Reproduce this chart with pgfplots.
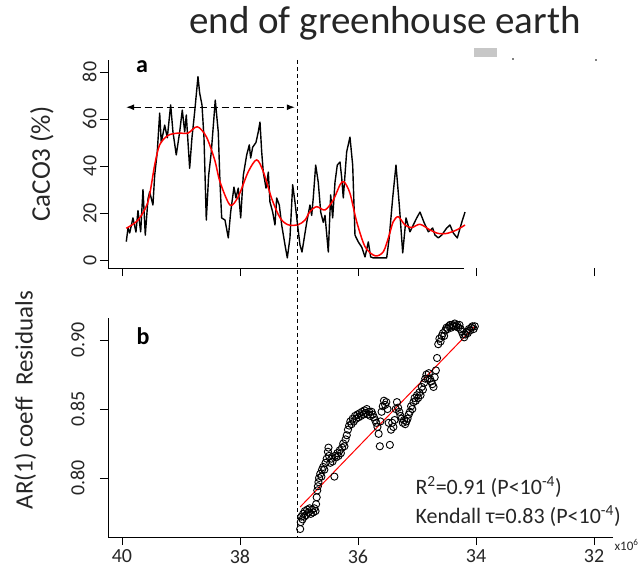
\documentclass[border=0pt]{standalone}
\usepackage{fontspec}
\setmainfont{Carlito}
\usepackage{pgfplots}
\usepackage{pgfplotstable}
\pgfplotsset{compat=1.18}
\usetikzlibrary{arrows.meta}

% CaCO3 record (black) and its smooth (red), ages in years x10^6
\pgfplotstableread{
x y
39.927 7.8
39.898 13.6
39.869 11.5
39.814 17.9
39.763 11.9
39.729 21
39.683 12
39.644 30
39.605 10.6
39.559 26
39.531 29
39.475 23.4
39.446 36
39.402 46
39.361 62.5
39.334 50
39.276 57.4
39.232 52
39.175 66
39.136 54.5
39.080 44.7
39.022 54.5
38.978 63.8
38.937 54.5
38.910 61.7
38.853 39
38.814 52
38.768 63
38.712 78
38.683 71
38.644 66
38.610 52
38.571 17
38.531 36
38.486 46
38.419 68
38.368 54.5
38.339 33
38.310 17.9
38.254 17
38.198 9.4
38.158 20.4
38.102 31
38.068 26.4
38.029 30.6
37.988 17.9
37.944 36
37.886 44.7
37.842 49
37.819 43.4
37.785 48
37.729 50
37.690 54.5
37.661 58.7
37.632 46
37.605 37.4
37.559 30.6
37.520 37.4
37.492 24.7
37.446 20.4
37.407 14.9
37.378 26.4
37.334 23.4
37.293 14.9
37.237 6.4
37.198 0.9
37.153 9.4
37.107 32
37.068 24.7
37.029 16
36.983 6.4
36.949 3.4
36.869 16
36.814 23.4
36.785 19
36.758 26.4
36.717 40.4
36.673 33
36.632 20.4
36.588 16
36.559 19
36.503 3.4
36.463 27.7
36.429 17.9
36.390 33
36.351 40.4
36.305 41.7
36.276 35
36.249 26.4
36.192 46
36.136 52.3
36.090 40.4
36.051 10.6
35.995 7.7
35.937 5.5
35.881 1.3
35.825 7.7
35.785 1.3
35.741 0.9
35.627 0.9
35.514 0.9
35.471 9.4
35.412 26.4
35.356 40.4
35.300 23.4
35.242 3
35.186 17.9
35.119 12
35.063 14.9
35.005 17.9
34.949 20.4
34.881 16
34.808 12
34.734 13.6
34.695 10.6
34.639 9.4
34.581 10.6
34.497 13.6
34.441 14.9
34.385 11.5
34.317 9.4
34.242 16
34.186 20.4
}\caco

\pgfplotstableread{
x y
39.927 13.5
39.729 17
39.559 24.8
39.446 40.4
39.361 49
39.220 53
39.051 54
38.881 54
38.724 56.7
38.571 52.5
38.429 42.6
38.339 33.3
38.169 23.4
38.029 27
37.859 37.6
37.717 42.6
37.605 37.6
37.463 26.2
37.322 18
37.186 15
37.017 15
36.898 17
36.814 20.6
36.700 22.7
36.559 21.3
36.419 25.5
36.305 32
36.237 33.3
36.136 28.4
36.022 16.3
35.881 5.7
35.712 1.8
35.571 3.5
35.471 10.6
35.403 16.3
35.317 18.4
35.203 14.9
35.090 13.8
34.949 15.2
34.780 12.8
34.639 11.3
34.497 11.3
34.327 12.8
34.186 14.9
}\cacosmooth

% AR(1) coefficient of residuals
\pgfplotstableread{
x y
36.98 0.763
36.97 0.768
36.96 0.772
36.94 0.770
36.93 0.774
36.91 0.772
36.90 0.776
36.88 0.773
36.86 0.777
36.84 0.775
36.82 0.778
36.80 0.774
36.78 0.777
36.76 0.775
36.74 0.778
36.72 0.776
36.71 0.781
36.70 0.786
36.69 0.791
36.68 0.794
36.67 0.797
36.66 0.800
36.64 0.803
36.62 0.801
36.61 0.806
36.59 0.808
36.57 0.806
36.55 0.811
36.53 0.814
36.51 0.819
36.50 0.822
36.49 0.816
36.47 0.811
36.45 0.814
36.43 0.812
36.40 0.801
36.39 0.816
36.37 0.815
36.35 0.818
36.33 0.816
36.31 0.820
36.29 0.818
36.27 0.822
36.25 0.825
36.23 0.823
36.21 0.828
36.19 0.831
36.17 0.835
36.15 0.838
36.13 0.841
36.11 0.839
36.09 0.843
36.07 0.841
36.05 0.845
36.03 0.843
36.01 0.846
35.99 0.844
35.97 0.847
35.95 0.845
35.93 0.848
35.91 0.846
35.89 0.849
35.87 0.847
35.85 0.850
35.83 0.846
35.81 0.848
35.79 0.845
35.77 0.848
35.75 0.846
35.73 0.844
35.71 0.842
35.69 0.840
35.67 0.837
35.65 0.832
35.63 0.823
35.62 0.841
35.60 0.848
35.58 0.852
35.56 0.856
35.54 0.853
35.52 0.855
35.50 0.850
35.48 0.840
35.46 0.824
35.44 0.835
35.42 0.840
35.40 0.837
35.38 0.842
35.36 0.850
35.34 0.855
35.32 0.851
35.30 0.848
35.28 0.845
35.26 0.843
35.24 0.840
35.22 0.842
35.20 0.839
35.18 0.841
35.16 0.843
35.14 0.846
35.12 0.848
35.10 0.852
35.08 0.850
35.06 0.855
35.04 0.858
35.02 0.856
35.00 0.860
34.98 0.858
34.96 0.862
34.94 0.860
34.92 0.866
34.90 0.864
34.88 0.869
34.86 0.872
34.84 0.875
34.82 0.872
34.80 0.876
34.78 0.872
34.76 0.870
34.74 0.868
34.72 0.866
34.70 0.873
34.68 0.878
34.66 0.887
34.64 0.897
34.62 0.901
34.60 0.899
34.58 0.903
34.56 0.905
34.54 0.903
34.52 0.907
34.50 0.909
34.48 0.908
34.46 0.910
34.44 0.911
34.42 0.909
34.40 0.911
34.38 0.910
34.36 0.912
34.34 0.910
34.32 0.911
34.30 0.909
34.28 0.911
34.26 0.908
34.24 0.906
34.22 0.904
34.20 0.902
34.18 0.904
34.16 0.906
34.14 0.905
34.12 0.908
34.10 0.907
34.08 0.909
34.06 0.910
34.04 0.908
34.02 0.910
}\resid

\pgfplotsset{
  panel/.style={
    scale only axis, width=505pt, anchor=south west,
    x dir=reverse, xmin=31.678, xmax=40.237,
    xtick={32,34,36,38,40},
    axis lines=left, axis line style={-, line width=0.8pt},
    tick align=outside, major tick length=8pt,
    tick style={black, line width=0.8pt},
    /pgf/number format/assume math mode=true,
    ticklabel style={font=\fontsize{20}{23}\selectfont, text=black!85},
    yticklabel style={rotate=90, anchor=south},
    label style={text=black!85},
    clip=false,
  },
}

\begin{document}
\begin{tikzpicture}
\path[use as bounding box] (0pt,0pt) rectangle (642pt,574pt);

% panel a
\begin{axis}[panel,
  at={(108pt,306pt)}, height=208pt,
  ymin=-3.4, ymax=85.1, ytick={0,20,40,60,80},
  xticklabels={},
  x axis line style={draw=none},
  ylabel={CaCO3 (\%)},
  ylabel style={at={(axis description cs:-0.131,0.5)}, anchor=center,
    font=\fontsize{27}{30}\selectfont},
]
\draw[line width=0.8pt] (axis cs:40.237,-3.4) -- (axis cs:34.2,-3.4);
\addplot[black, line width=1.4pt, line join=round] table {\caco};
\addplot[red, line width=1.5pt, smooth] table {\cacosmooth};
\draw[black, line width=1.2pt, dash pattern=on 7pt off 4pt,
  {Latex[length=8pt,width=6pt]}-{Latex[length=8pt,width=6pt]}]
  (axis cs:39.93,65) -- (axis cs:37.07,65);
\coordinate (vtop) at (axis cs:37.02,85.1);
\end{axis}

% panel b
\begin{axis}[panel,
  at={(108pt,37pt)}, height=219pt,
  ymin=0.7572, ymax=0.916, ytick={0.80,0.85,0.90},
  yticklabel style={/pgf/number format/.cd, fixed, fixed zerofill, precision=2,
    /tikz/.cd, yshift=12pt},
  xticklabel style={yshift=-1pt},
  ylabel={AR(1) coeff\ \ Residuals},
  ylabel style={at={(axis description cs:-0.164,0.625)}, anchor=center,
    font=\fontsize{25}{28}\selectfont},
]
\addplot[red, line width=1pt] coordinates {(36.98,0.779) (34.02,0.910)};
\addplot[only marks, mark=o, mark size=3.6pt, mark options={line width=0.9pt, black}] table {\resid};
\coordinate (vbot) at (axis cs:37.02,0.7572);
\end{axis}

\draw[black, line width=1.1pt, dash pattern=on 4pt off 3pt] (vtop) -- (vbot);

\node[font=\fontsize{39}{44}\selectfont, text=black!85] at (385pt,551pt) {end of greenhouse earth};
\node[font=\fontsize{24}{28}\selectfont\bfseries] at (142pt,507pt) {a};
\node[font=\fontsize{24}{28}\selectfont\bfseries] at (143pt,238pt) {b};
\fill[black!22] (474pt,517pt) rectangle (497pt,526pt);
\fill[black] (513pt,515pt) circle (0.8pt);
\fill[black] (596pt,514pt) circle (0.8pt);

\node[anchor=west, font=\fontsize{22}{25}\selectfont, text=black!85] at (412pt,87pt)
  {R\textsuperscript{2}=0.91 (P<10\textsuperscript{-4})};
\node[anchor=west, font=\fontsize{22}{25}\selectfont, text=black!85] at (412pt,58pt)
  {Kendall τ=0.83 (P<10\textsuperscript{-4})};
\node[anchor=west, font=\fontsize{13}{15}\selectfont, text=black!85] at (611pt,29pt)
  {x10\textsuperscript{6}};
\end{tikzpicture}
\end{document}
